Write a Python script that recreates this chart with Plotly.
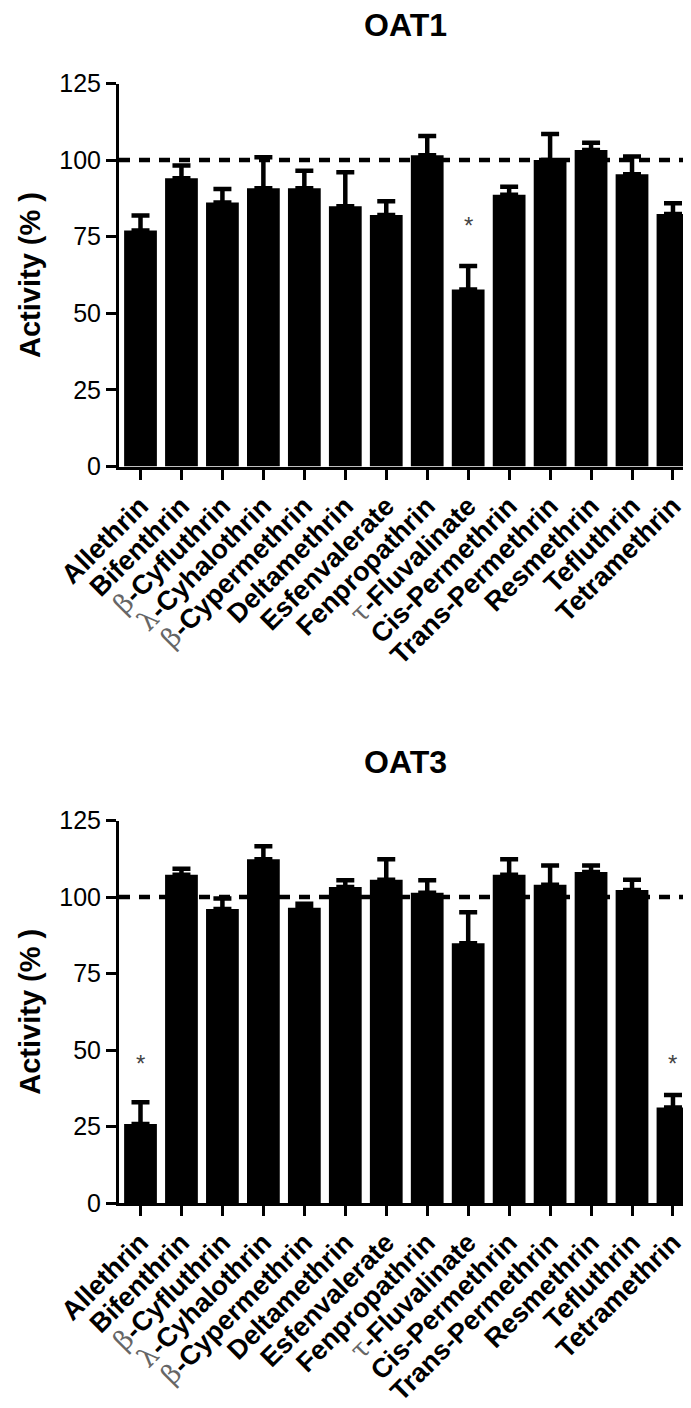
import plotly.graph_objects as go

GR = "<span style='font-family:DejaVu Serif, serif;font-weight:normal;color:#666'>{}</span>"
categories = ["Allethrin", "Bifenthrin", GR.format("β") + "-Cyfluthrin", GR.format("λ") + "-Cyhalothrin",
              GR.format("β") + "-Cypermethrin", "Deltamethrin", "Esfenvalerate", "Fenpropathrin",
              GR.format("τ") + "-Fluvalinate", "Cis-Permethrin", "Trans-Permethrin", "Resmethrin",
              "Tefluthrin", "Tetramethrin"]

oat1_mean = [77.0, 94.1, 86.2, 90.8, 90.8, 84.9, 82.1, 101.6, 57.8, 88.7, 100.0, 103.3, 95.4, 82.4]
oat1_top = [81.9, 98.2, 90.6, 100.9, 96.5, 96.0, 86.6, 107.9, 65.4, 91.3, 108.5, 105.7, 101.2, 85.9]
oat1_sig = [8]
oat3_mean = [25.8, 107.3, 96.1, 112.3, 96.5, 103.3, 105.6, 101.4, 84.9, 107.3, 104.0, 108.2, 102.3, 31.2]
oat3_top = [32.9, 109.2, 99.5, 116.6, 97.8, 105.5, 112.3, 105.5, 95.0, 112.3, 110.3, 110.3, 105.6, 35.3]
oat3_sig = [0, 13]
titles = ["OAT1", "OAT3"]
y_ticks = [0, 25, 50, 75, 100, 125]

# the page body adds an 8px margin; the figure is sized to fill the rest of the window
OFF = 8
W, H = 691 - OFF, 1408 - OFF
FONT = "Liberation Sans, Arial, sans-serif"
xs = list(range(len(categories)))


def px(v):
    return (v - OFF) / W


def py(v):
    return 1 - (v - OFF) / H


fig = go.Figure()
panels = [
    (oat1_mean, oat1_top, oat1_sig, 83.5, 466.5, 78.5, 25),
    (oat3_mean, oat3_top, oat3_sig, 820.5, 1203.0, 45.5, 762),
]
for i, (mean, top, sig, ytop, ybot, star_y, title_y) in enumerate(panels):
    n = "" if i == 0 else str(i + 1)
    err = [t - m for t, m in zip(top, mean)]
    fig.add_trace(go.Bar(
        x=xs, y=mean, marker=dict(color="black", line=dict(width=0)),
        error_y=dict(type="data", array=err, arrayminus=[0] * len(err), symmetric=False,
                     color="black", thickness=4.5, width=9),
        xaxis="x" + n, yaxis="y" + n, showlegend=False,
    ))
    xa = dict(domain=[px(119), 1.0], range=[-0.525, 13.44], tickmode="array", tickvals=xs,
              ticktext=categories, tickangle=-45, ticks="outside", ticklen=10, tickwidth=3,
              tickcolor="black", showline=True, linecolor="black", linewidth=3,
              showgrid=False, zeroline=False, anchor="y" + n, automargin=False,
              tickfont=dict(family=FONT, size=27, color="black", weight="bold"))
    ya = dict(domain=[py(ybot), py(ytop)], range=[0, 125], tickmode="array",
              tickvals=y_ticks, ticks="outside", ticklen=10, tickwidth=3, tickcolor="black",
              showline=True, linecolor="black", linewidth=3, showgrid=False, zeroline=False,
              anchor="x" + n, automargin=False, tickfont=dict(family=FONT, size=25, color="black"))
    fig.update_layout(**{"xaxis" + n: xa, "yaxis" + n: ya})
    fig.add_shape(type="line", xref="x" + n, yref="y" + n, x0=-0.525, x1=13.44, y0=100, y1=100,
                  line=dict(color="black", width=4.5, dash="11px,9px"), layer="above")
    for s in sig:
        fig.add_annotation(x=s, y=star_y, xref="x" + n, yref="y" + n, text="*", showarrow=False,
                           font=dict(family=FONT, size=24, color="#444"))
    fig.add_annotation(x=px(405), y=py(title_y), xref="paper", yref="paper", text="<b>" + titles[i] + "</b>",
                       showarrow=False, xanchor="center", yanchor="middle",
                       font=dict(family=FONT, size=32, color="black"))
    fig.add_annotation(x=px(30), y=py((ytop + ybot) / 2), xref="paper", yref="paper",
                       text="<b>Activity (% )</b>", textangle=-90, showarrow=False,
                       xanchor="center", yanchor="middle",
                       font=dict(family=FONT, size=29, color="black"))

fig.update_layout(width=W, height=H, margin=dict(l=0, r=0, t=0, b=0, autoexpand=False),
                  paper_bgcolor="white", plot_bgcolor="white", bargap=0.2)
fig.write_html("out.html")
